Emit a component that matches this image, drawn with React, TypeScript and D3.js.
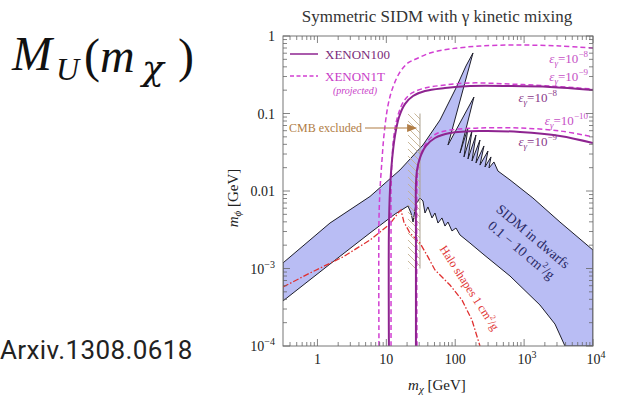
import React from 'react';
import * as d3 from 'd3';

const W = 641;
const H = 398;

// SIDM in dwarfs band (mX GeV, mphi GeV): lower edge left->right, then upper edge right->left
const sidmLower: [number, number][] = [
  [0.316, 0.000381], [1.52, 0.00114], [5.79, 0.00287], [13.4, 0.00505], [20.6, 0.0064],
  [22.8, 0.0052], [24.4, 0.00398], [26.9, 0.0068], [30.8, 0.00812], [34.0, 0.00743],
  [36.4, 0.0052], [40.2, 0.00622], [46.0, 0.00449], [50.8, 0.0052], [56.2, 0.00386],
  [64.2, 0.00449], [71.0, 0.00353], [78.5, 0.00398], [89.7, 0.00305], [102.6, 0.00333],
  [117.2, 0.00271], [163.7, 0.00213], [252.9, 0.00154], [623.7, 0.0008], [1698, 0.000338],
  [2805, 0.000192], [3918, 0.0001], [10000, 0.0001],
];
const sidmUpper: [number, number][] = [
  [10000, 0.00173], [3311, 0.00398], [1343, 0.00812], [623.7, 0.0139], [417, 0.0181],
  [364.8, 0.0237], [309, 0.0198], [330.4, 0.0275], [270.4, 0.0204], [298.5, 0.0328],
  [228.6, 0.0216], [261.2, 0.0381], [200, 0.023], [228.6, 0.0455], [175, 0.0244],
  [200, 0.0528], [153.1, 0.0259], [175, 0.0595], [134, 0.0275], [153.1, 0.065],
  [117.2, 0.0309], [187, 0.163], [78.5, 0.0392], [181.1, 0.604], [143.2, 0.41],
  [102.6, 0.213], [60.1, 0.0824], [34.0, 0.0392], [15.8, 0.0187], [5.79, 0.0085],
  [1.52, 0.00386], [0.316, 0.00118],
];

// Halo shapes 1 cm^2/g
const haloShapes: [number, number][] = [
  [0.316, 0.000577], [0.78, 0.000875], [2.35, 0.00141], [5.79, 0.00233], [11.3, 0.00375],
  [14.8, 0.0052], [16.3, 0.00569], [18.0, 0.00398], [22.0, 0.00287], [30.8, 0.00213],
  [40.2, 0.00141], [50.8, 0.000957], [83.9, 0.000612], [125.3, 0.000392], [175, 0.000216],
  [228.6, 0.0001],
];

// XENON100 (solid)
const xenon100Eps8: [number, number][] = [
  [10.9, 0.0001], [10.9, 0.00314], [11.3, 0.0103], [12.1, 0.0251], [13.4, 0.0528],
  [15.3, 0.0901], [18.7, 0.133], [24.4, 0.168], [36.4, 0.195], [71.0, 0.213],
  [163.7, 0.226], [623.7, 0.226], [2371, 0.22], [10000, 0.201],
];
const xenon100Eps9: [number, number][] = [
  [26.9, 0.0001], [26.9, 0.00314], [26.9, 0.0119], [27.9, 0.0187], [30.8, 0.0267],
  [37.6, 0.0381], [50.8, 0.0483], [83.9, 0.056], [228.6, 0.0595], [871, 0.0577],
  [3311, 0.0513], [10000, 0.0416],
];

// XENON1T projected (dashed)
const xenon1tEps8: [number, number][] = [
  [7.82, 0.0001], [7.82, 0.00423], [8.09, 0.0103], [8.65, 0.0251], [9.25, 0.0528],
  [10.6, 0.129], [12.5, 0.22], [15.8, 0.343], [20.6, 0.449], [26.9, 0.505],
  [43.0, 0.604], [83.9, 0.68], [228.6, 0.743], [871, 0.765], [3311, 0.743], [10000, 0.7],
];
const xenon1tEps9: [number, number][] = [
  [11.7, 0.0001], [11.7, 0.00314], [11.7, 0.0103], [12.1, 0.0251], [12.9, 0.0528],
  [14.8, 0.0957], [18.0, 0.145], [23.6, 0.184], [36.4, 0.213], [71.0, 0.233],
  [163.7, 0.248], [623.7, 0.24], [2371, 0.226], [10000, 0.207],
];
const xenon1tEps10: [number, number][] = [
  [27.9, 0.0001], [27.9, 0.0119], [28.8, 0.0198], [31.8, 0.03], [38.9, 0.0429],
  [52.5, 0.0544], [83.9, 0.0612], [228.6, 0.065], [871, 0.065], [3311, 0.0595],
  [10000, 0.0498],
];

// epsilon labels: [mX at right end, mphi at baseline, exponent, dashed?]
const epsLabels: [number, number, string, boolean][] = [
  [8450, 0.449, '−8', true],
  [8450, 0.26, '−9', true],
  [3000, 0.141, '−8', false],
  [8450, 0.072, '−10', true],
  [3000, 0.0381, '−9', false],
];

// CMB excluded hatched region
const cmbX: [number, number] = [20.6, 30.8];
const cmbY: [number, number] = [0.001, 0.1];
const cmbArrowY = 0.065;
const cmbArrowX: [number, number] = [4.9, 28];

const xTicks: [number, string, string][] = [
  [1, '1', ''], [10, '10', ''], [100, '100', ''], [1000, '10', '3'], [10000, '10', '4'],
];
const yTicks: [number, string, string][] = [
  [1, '1', ''], [0.1, '0.1', ''], [0.01, '0.01', ''], [0.001, '10', '−3'], [0.0001, '10', '−4'],
];

const X0 = 283, X1 = 593, Y0 = 36, Y1 = 346;
const xScale = d3.scaleLog().domain([Math.pow(10, -0.5), 1e4]).range([X0, X1]);
const yScale = d3.scaleLog().domain([1e-4, 1]).range([Y1, Y0]);

const SOLID = '#8e2490';
const DASHED = '#d23fd2';
const CMB = '#b07d45';

const minorTicks = (lo: number, hi: number) => {
  const out: number[] = [];
  for (let d = -5; d <= 4; d++) {
    for (let k = 2; k <= 9; k++) {
      const v = k * Math.pow(10, d);
      if (v > lo && v < hi) out.push(v);
    }
  }
  return out;
};

export default function App() {
  const straight = d3
    .line<[number, number]>()
    .x((d) => xScale(d[0]))
    .y((d) => yScale(d[1]));
  const smooth = d3
    .line<[number, number]>()
    .x((d) => xScale(d[0]))
    .y((d) => yScale(d[1]))
    .curve(d3.curveCatmullRom.alpha(0.5));

  const bandPath = straight([...sidmLower, ...sidmUpper]) + 'Z';

  const xMinor = minorTicks(Math.pow(10, -0.5), 1e4);
  const yMinor = minorTicks(1e-4, 1);

  const ax = xScale(cmbArrowX[1]);
  const ay = yScale(cmbArrowY);

  return (
    <svg
      width={W}
      height={H}
      style={{ position: 'absolute', left: 0, top: 0, background: '#fff' }}
      fontFamily="'Liberation Serif', 'Times New Roman', serif"
    >
      <defs>
        <clipPath id="plot-clip">
          <rect x={X0} y={Y0} width={X1 - X0} height={Y1 - Y0} />
        </clipPath>
        <pattern id="hatch" patternUnits="userSpaceOnUse" width={7} height={7}>
          <line x1={0} y1={0} x2={7} y2={7} stroke="#c4b08f" strokeWidth={0.9} />
        </pattern>
      </defs>

      {/* left annotations */}
      <g fill="#111">
        <text x={12} y={70} fontSize={48} fontStyle="italic">M</text>
        <text x={56} y={80} fontSize={32} fontStyle="italic">U</text>
        <text x={84} y={72} fontSize={48}>(</text>
        <text x={100} y={72} fontSize={48} fontStyle="italic">m</text>
        <text x={142} y={80} fontSize={36} fontStyle="italic" fontFamily="'DejaVu Serif', serif">χ</text>
        <text x={178} y={72} fontSize={48}>)</text>
      </g>
      <text x={0} y={359} fontSize={26} letterSpacing={0.4} fontFamily="Roboto, 'Noto Sans', sans-serif" fill="#222">
        Arxiv.1308.0618
      </text>

      <text x={437} y={22} fontSize={17} textAnchor="middle" fill="#333">
        Symmetric SIDM with γ kinetic mixing
      </text>

      <g clipPath="url(#plot-clip)">
        <path d={bandPath} fill="#b9bdf4" stroke="#1e1e2a" strokeWidth={1} strokeLinejoin="round" />
        <rect
          x={xScale(cmbX[0])}
          y={yScale(cmbY[1])}
          width={xScale(cmbX[1]) - xScale(cmbX[0])}
          height={yScale(cmbY[0]) - yScale(cmbY[1])}
          fill="url(#hatch)"
        />
        <line
          x1={xScale(cmbX[1])}
          x2={xScale(cmbX[1])}
          y1={yScale(cmbY[1])}
          y2={yScale(cmbY[0])}
          stroke="#aaa08e"
          strokeWidth={1}
        />
        <path d={straight(haloShapes) ?? ''} fill="none" stroke="#e03030" strokeWidth={1.3} strokeDasharray="6,2,1.5,2" />
        {[xenon1tEps8, xenon1tEps9, xenon1tEps10].map((c, i) => (
          <path key={`d${i}`} d={smooth(c) ?? ''} fill="none" stroke={DASHED} strokeWidth={1.5} strokeDasharray="5,3" />
        ))}
        {[xenon100Eps8, xenon100Eps9].map((c, i) => (
          <path key={`s${i}`} d={smooth(c) ?? ''} fill="none" stroke={SOLID} strokeWidth={2} />
        ))}
      </g>

      {/* CMB arrow */}
      <text x={xScale(cmbArrowX[0]) - 3} y={ay + 4} fontSize={12} textAnchor="end" fill={CMB}>
        CMB excluded
      </text>
      <line x1={xScale(cmbArrowX[0])} x2={ax - 8} y1={ay} y2={ay} stroke={CMB} strokeWidth={1.2} />
      <path d={`M${ax},${ay} L${ax - 10},${ay - 4} L${ax - 10},${ay + 4} Z`} fill={CMB} />

      {/* epsilon labels */}
      {epsLabels.map(([mx, mp, exp, dashed], i) => (
        <text
          key={i}
          x={xScale(mx)}
          y={yScale(mp)}
          textAnchor="end"
          fontSize={13}
          fontStyle="italic"
          fill={dashed ? '#c650c6' : '#8a3a8a'}
        >
          ε<tspan fontSize={9} dy={3}>γ</tspan>
          <tspan dy={-3} fontStyle="normal">=10</tspan>
          <tspan fontSize={9} dy={-6} fontStyle="normal">{exp}</tspan>
        </text>
      ))}

      {/* band text */}
      <g transform="translate(530,240) rotate(40)" fill="#2a2a66" fontSize={14} textAnchor="middle">
        <text x={0} y={0}>SIDM in dwarfs</text>
        <text x={0} y={18}>
          0.1 − 10 cm<tspan fontSize={9} dy={-6}>2</tspan>
          <tspan dy={6}>/g</tspan>
        </text>
      </g>
      <g transform="translate(466,290) rotate(57)" fill="#e03535" fontSize={12} textAnchor="middle">
        <text x={0} y={0}>
          Halo shapes 1 cm<tspan fontSize={8} dy={-5}>2</tspan>
          <tspan dy={5}>/g</tspan>
        </text>
      </g>

      {/* legend */}
      <line x1={290} x2={318} y1={54} y2={54} stroke={SOLID} strokeWidth={1.5} />
      <text x={325} y={59} fontSize={13} fill="#7a2a7a">XENON100</text>
      <line x1={290} x2={318} y1={76} y2={76} stroke={DASHED} strokeWidth={1.5} strokeDasharray="4,2.5" />
      <text x={325} y={81} fontSize={13} fill="#c83cc8">XENON1T</text>
      <text x={355} y={94} fontSize={10} fontStyle="italic" textAnchor="middle" fill="#c83cc8">
        (projected)
      </text>

      {/* frame and ticks */}
      <rect x={X0} y={Y0} width={X1 - X0} height={Y1 - Y0} fill="none" stroke="#777" strokeWidth={1} />
      <g stroke="#666" strokeWidth={0.8}>
        {xTicks.map(([v]) => (
          <g key={`xt${v}`}>
            <line x1={xScale(v)} x2={xScale(v)} y1={Y1} y2={Y1 - 7} />
            <line x1={xScale(v)} x2={xScale(v)} y1={Y0} y2={Y0 + 7} />
          </g>
        ))}
        {xMinor.map((v) => (
          <g key={`xm${v}`}>
            <line x1={xScale(v)} x2={xScale(v)} y1={Y1} y2={Y1 - 4} />
            <line x1={xScale(v)} x2={xScale(v)} y1={Y0} y2={Y0 + 4} />
          </g>
        ))}
        {yTicks.map(([v]) => (
          <g key={`yt${v}`}>
            <line x1={X0} x2={X0 + 7} y1={yScale(v)} y2={yScale(v)} />
            <line x1={X1} x2={X1 - 7} y1={yScale(v)} y2={yScale(v)} />
          </g>
        ))}
        {yMinor.map((v) => (
          <g key={`ym${v}`}>
            <line x1={X0} x2={X0 + 4} y1={yScale(v)} y2={yScale(v)} />
            <line x1={X1} x2={X1 - 4} y1={yScale(v)} y2={yScale(v)} />
          </g>
        ))}
      </g>
      <g fontSize={14} fill="#222">
        {xTicks.map(([v, base, exp]) => (
          <text key={`xl${v}`} x={xScale(v) + (exp ? 3 : 0)} y={Y1 + 18} textAnchor="middle">
            {base}
            {exp && <tspan fontSize={10} dy={-6}>{exp}</tspan>}
          </text>
        ))}
        {yTicks.map(([v, base, exp]) => (
          <text key={`yl${v}`} x={X0 - 8} y={yScale(v) + 5} textAnchor="end">
            {base}
            {exp && <tspan fontSize={10} dy={-6}>{exp}</tspan>}
          </text>
        ))}
      </g>
      <text x={437} y={390} fontSize={15} textAnchor="middle" fill="#222">
        <tspan fontStyle="italic">m</tspan>
        <tspan fontSize={11} dy={3} fontStyle="italic">χ</tspan>
        <tspan dy={-3}>{'  [GeV]'}</tspan>
      </text>
      <text transform="translate(238,198) rotate(-90)" fontSize={15} textAnchor="middle" fill="#222">
        <tspan fontStyle="italic">m</tspan>
        <tspan fontSize={11} dy={3} fontStyle="italic">ϕ</tspan>
        <tspan dy={-3}>{'  [GeV]'}</tspan>
      </text>
    </svg>
  );
}
